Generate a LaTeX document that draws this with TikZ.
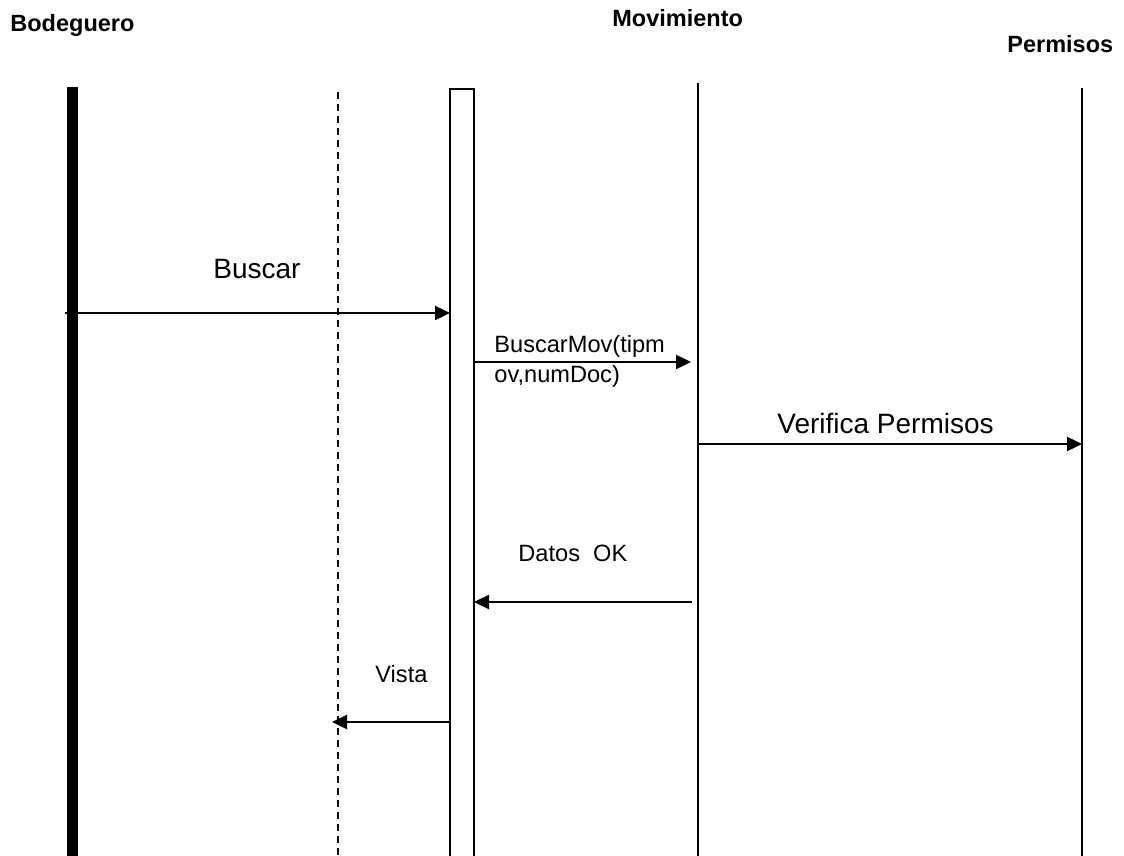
\documentclass[tikz,border=0pt]{standalone}
\usepackage{fontspec}
\setmainfont{Liberation Sans}
\usetikzlibrary{arrows.meta}
\begin{document}
\begin{tikzpicture}[x=0.5pt,y=-0.5pt,
		actor/.style={font=\bfseries\fontsize{11.75}{14}\selectfont, anchor=base west, inner sep=0pt},
		msg/.style={font=\fontsize{11.8}{14}\selectfont, anchor=base west, inner sep=0pt},
		bigmsg/.style={font=\fontsize{14}{17}\selectfont, anchor=base west, inner sep=0pt},
		lifeline/.style={line width=1pt},
		call/.style={line width=1.2pt, -{Triangle[length=7.5pt,width=7pt]}}]
		\useasboundingbox (0,0) rectangle (1124,856);

		% Actors
		\node[actor] (bod) at (10,32) {Bodeguero};
		\node[actor] (mov) at (612,27) {Movimiento};
		\node[actor] (per) at (1007,53) {Permisos};

		% Lifelines
		\coordinate (bodTop) at (72.5,87);
		\coordinate (bodBot) at (72.5,856);
		\coordinate (uiTop) at (338,92);
		\coordinate (uiBot) at (338,856);
		\coordinate (movTop) at (698,83);
		\coordinate (movBot) at (698,856);
		\coordinate (perTop) at (1082,88);
		\coordinate (perBot) at (1082,856);
		\draw[line width=5.8pt] (bodTop) -- (bodBot);
		\draw[lifeline, dash pattern=on 3.5pt off 2.5pt] (uiTop) -- (uiBot);
		\draw[lifeline] (450,89) rectangle (474,862);
		\draw[lifeline] (movTop) -- (movBot);
		\draw[lifeline] (perTop) -- (perBot);

		% Message ends
		\coordinate (b1) at (65,313);
		\coordinate (b2) at (450,313);
		\coordinate (m1) at (474,362);
		\coordinate (m2) at (691,362);
		\coordinate (v1) at (698,444);
		\coordinate (v2) at (1082,444);
		\coordinate (d1) at (692,602);
		\coordinate (d2) at (474,602);
		\coordinate (s1) at (450,722);
		\coordinate (s2) at (332,722);

		% Messages
		\draw[call] (b1) -- (b2);
		\node[bigmsg] (lbBuscar) at (213,278) {Buscar};
		\draw[call] (m1) -- (m2);
		\node[msg] (lbMov1) at (494,352) {BuscarMov(tipm};
		\node[msg] (lbMov2) at (494,382) {ov,numDoc)};
		\draw[call] (v1) -- (v2);
		\node[bigmsg] (lbVer) at (777,433) {Verifica Permisos};
		\draw[call] (d1) -- (d2);
		\node[msg] (lbDatos) at (518,561) {Datos~~OK};
		\draw[call] (s1) -- (s2);
		\node[msg] (lbVista) at (375,682) {Vista};
	\end{tikzpicture}
\end{document}
